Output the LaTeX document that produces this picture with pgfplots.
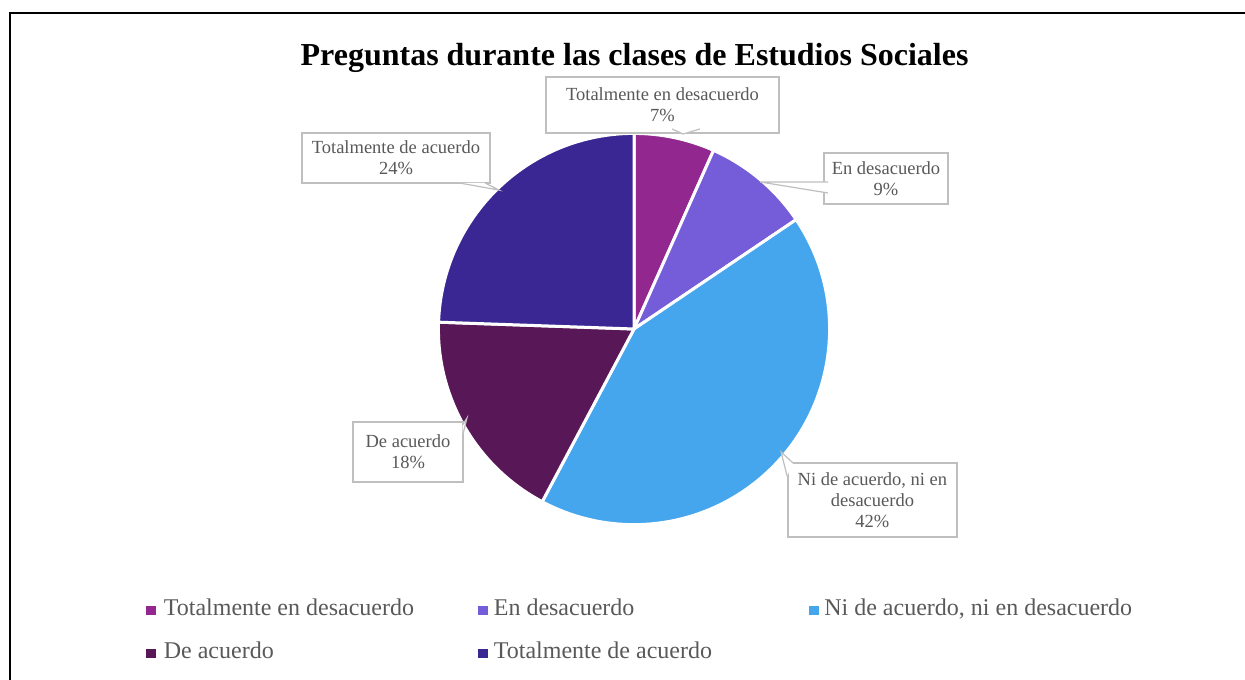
\documentclass[border=0pt]{standalone}
\usepackage{pgfplots}
\pgfplotsset{compat=1.18}
\usepackage{pgfplotstable}
\usepackage{fontspec}
\setmainfont{Liberation Serif}

\definecolor{c0}{HTML}{92278F}
\definecolor{c1}{HTML}{755DD9}
\definecolor{c2}{HTML}{45A5ED}
\definecolor{c3}{HTML}{581756}
\definecolor{c4}{HTML}{3A2794}
\definecolor{txt}{HTML}{595959}
\definecolor{boxline}{HTML}{BFBFBF}

% counts (N = 45): 7%, 9%, 42%, 18%, 24%
\pgfplotstableread[col sep=semicolon]{
label;count
Totalmente en desacuerdo;3
En desacuerdo;4
Ni de acuerdo, ni en desacuerdo;19
De acuerdo;8
Totalmente de acuerdo;11
}\piedata

\begin{document}
\begin{tikzpicture}
% angles of the wedges, from the table
\def\total{0}
\pgfplotsforeachungrouped \i in {0,...,4}{%
  \pgfplotstablegetelem{\i}{count}\of\piedata
  \pgfmathsetmacro{\total}{\total+\pgfplotsretval}%
}
\def\prev{0}
\pgfplotsforeachungrouped \i in {0,...,4}{%
  \pgfplotstablegetelem{\i}{count}\of\piedata
  \pgfmathsetmacro{\a}{90-360*\prev/\total}%
  \pgfmathsetmacro{\prev}{\prev+\pgfplotsretval}%
  \pgfmathsetmacro{\b}{90-360*\prev/\total}%
  \expandafter\xdef\csname sA\i\endcsname{\a}%
  \expandafter\xdef\csname sB\i\endcsname{\b}%
}
\useasboundingbox (0,0) rectangle (622.5pt,339.5pt);
\begin{axis}[
  at={(317pt,175pt)}, anchor=origin,
  hide axis, clip=false,
  x=97pt, y=97pt,
  xmin=-3.268, xmax=3.149, ymin=-1.804, ymax=1.696,
  legend columns=3,
  legend image code/.code={\fill[#1] (0pt,0.6pt) rectangle (4.25pt,4.85pt);},
  legend style={
    draw=none, fill=none, inner sep=0pt, outer sep=0pt,
    at={(0.1173,0.1178)}, anchor=north west,
    font=\fontsize{12}{14}\selectfont, text=txt,
    nodes={inner sep=0pt, text height=8.5pt, text depth=2.5pt, anchor=base west},
    row sep=10.5pt,
    /tikz/column 1/.style={column sep=4.25pt},
    /tikz/column 2/.style={column sep=32pt},
    /tikz/column 3/.style={column sep=3.25pt},
    /tikz/column 4/.style={column sep=48.5pt},
    /tikz/column 5/.style={column sep=3pt},
  },
  legend cell align=left,
]
\addlegendimage{c0}\addlegendentry{Totalmente en desacuerdo}
\addlegendimage{c1}\addlegendentry{En desacuerdo}
\addlegendimage{c2}\addlegendentry{Ni de acuerdo, ni en desacuerdo}
\addlegendimage{c3}\addlegendentry{De acuerdo}
\addlegendimage{c4}\addlegendentry{Totalmente de acuerdo}

% outer frame
\draw[line width=1pt] (axis cs:-3.214,1.631) rectangle (axis cs:3.6,-2.2);

% title
\node[font=\fontsize{16}{19}\selectfont\bfseries, anchor=base] at (axis cs:0.003,1.356)
  {Preguntas durante las clases de Estudios Sociales};

% wedges
\pgfplotsinvokeforeach{0,...,4}{
  \filldraw[fill=c#1, draw=white, line width=1.5pt, line join=round]
    (axis cs:0,0) -- (axis cs:{1.008*cos(\csname sA#1\endcsname)},{1.008*sin(\csname sA#1\endcsname)})
    arc[start angle=\csname sA#1\endcsname, end angle=\csname sB#1\endcsname, radius=97.8pt] -- cycle;
}

% data labels
\tikzset{lbl/.style={draw=boxline, fill=white, line width=0.6pt, text=txt, align=center,
  font=\fontsize{9.25}{10.5}\selectfont, inner sep=0pt, anchor=center}}
\node[lbl, minimum width=116.5pt, minimum height=28pt] at (axis cs:0.147,1.155)
  {Totalmente en desacuerdo\\7\%};
\node[lbl, minimum width=62pt, minimum height=25.5pt] at (axis cs:1.299,0.776)
  {En desacuerdo\\9\%};
\node[lbl, minimum width=84.5pt, minimum height=37pt] at (axis cs:1.229,-0.881)
  {Ni de acuerdo, ni en\\desacuerdo\\42\%};
\node[lbl, minimum width=55pt, minimum height=30pt] at (axis cs:-1.165,-0.634)
  {De acuerdo\\18\%};
\node[lbl, minimum width=94pt, minimum height=25pt] at (axis cs:-1.227,0.881)
  {Totalmente de acuerdo\\24\%};

% callout pointers (pixel positions converted to axis units)
\fill[white] (axis cs:0.196,1.031) -- (axis cs:0.253,1.005) -- (axis cs:0.340,1.031) -- cycle;
\draw[boxline, line width=0.6pt] (axis cs:0.196,1.031) -- (axis cs:0.253,1.005) -- (axis cs:0.340,1.031);
\fill[white] (axis cs:1.0,0.758) -- (axis cs:0.649,0.758) -- (axis cs:1.0,0.701) -- cycle;
\draw[boxline, line width=0.6pt] (axis cs:1.0,0.758) -- (axis cs:0.649,0.758) -- (axis cs:1.0,0.701);
\fill[white] (axis cs:-0.902,0.753) -- (axis cs:-0.696,0.716) -- (axis cs:-0.768,0.753) -- cycle;
\draw[boxline, line width=0.6pt] (axis cs:-0.902,0.753) -- (axis cs:-0.696,0.716) -- (axis cs:-0.768,0.753);
\fill[white] (axis cs:-0.884,-0.495) -- (axis cs:-0.861,-0.459) -- (axis cs:-0.884,-0.552) -- cycle;
\draw[boxline, line width=0.6pt] (axis cs:-0.884,-0.495) -- (axis cs:-0.861,-0.459) -- (axis cs:-0.884,-0.552);
\fill[white] (axis cs:0.789,-0.758) -- (axis cs:0.758,-0.634) -- (axis cs:0.820,-0.691) -- cycle;
\draw[boxline, line width=0.6pt] (axis cs:0.789,-0.758) -- (axis cs:0.758,-0.634) -- (axis cs:0.820,-0.691);
\end{axis}
\end{tikzpicture}
\end{document}
